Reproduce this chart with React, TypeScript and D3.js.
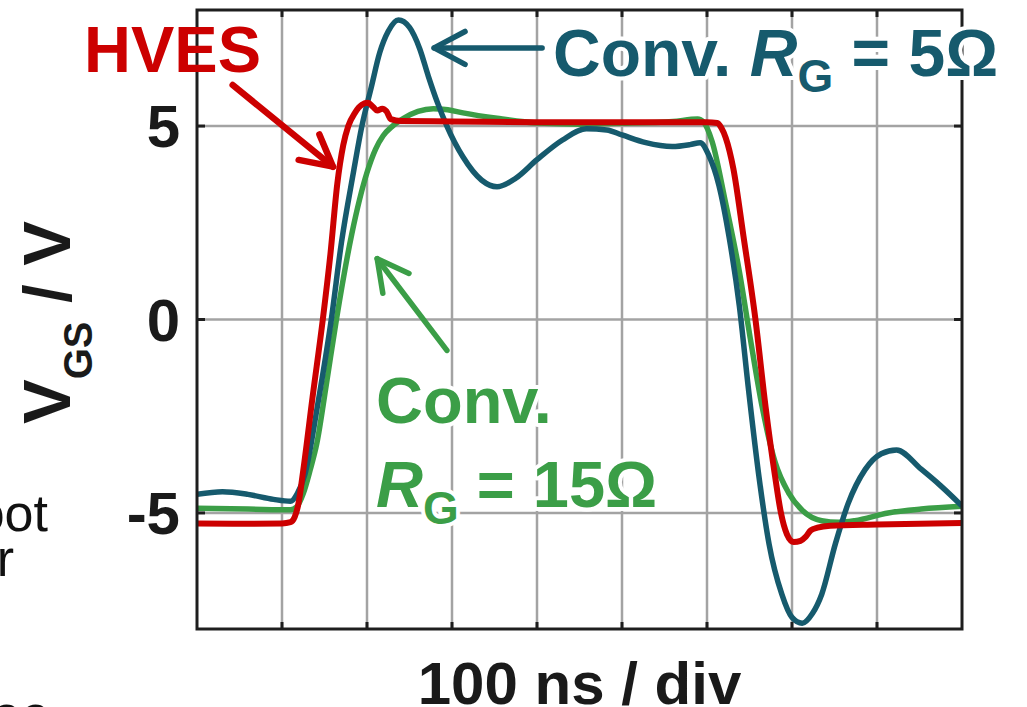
import React from "react";
import * as d3 from "d3";

// traces: [time ns, VGS volts]
const conv15Trace: [number, number][] = [
  [0, -4.88], [60, -4.9], [110, -4.92], [117, -4.85], [125, -4.5], [133, -3.9],
  [141, -3.2], [152, -1.7], [164, 0], [182, 2.2], [200, 3.8], [210, 4.4],
  [219, 4.75], [230, 5.0], [243, 5.2], [260, 5.38], [278, 5.45], [295, 5.42],
  [313, 5.34], [353, 5.2], [400, 5.08], [450, 5.05], [500, 5.07], [560, 5.12],
  [589, 5.18], [596, 5.1], [606, 4.6], [622, 3.0], [638, 1.25], [651, -0.5],
  [665, -2.27], [680, -3.68], [696, -4.48], [712, -4.93], [735, -5.2],
  [755, -5.24], [774, -5.2], [813, -5.0], [852, -4.9], [900, -4.83],
];

const conv5Trace: [number, number][] = [
  [0, -4.52], [30, -4.45], [60, -4.52], [90, -4.65], [110, -4.7], [118, -4.5],
  [127, -4.0], [142, -2.2], [158, 0], [170, 2.0], [184, 3.8], [194, 5.0],
  [205, 6.0], [215, 6.9], [225, 7.45], [237, 7.74], [250, 7.55], [262, 7.0],
  [272, 6.3], [283, 5.6], [294, 5.0], [313, 4.2], [335, 3.6], [353, 3.43],
  [375, 3.65], [400, 4.13], [430, 4.64], [458, 4.93], [482, 4.9], [500, 4.77],
  [528, 4.57], [559, 4.47], [580, 4.52], [592, 4.57], [602, 4.25], [614, 3.47],
  [626, 2.13], [638, 0.36], [649, -1.84], [661, -4.04], [673, -5.8], [688, -7.1],
  [700, -7.7], [712, -7.85], [724, -7.6], [735, -7.1], [751, -5.8], [766, -4.76],
  [786, -3.88], [805, -3.47], [823, -3.37], [852, -3.87], [875, -4.3], [900, -4.82],
];

const hvesTrace: [number, number][] = [
  [0, -5.27], [50, -5.28], [100, -5.27], [110, -5.24], [115, -5.1], [119, -4.8],
  [125, -3.9], [136, -2.0], [148, 0], [157, 1.7], [165, 3.5], [172, 4.5],
  [178, 5.0], [186, 5.35], [194, 5.55], [201, 5.6], [207, 5.5], [212, 5.4],
  [218, 5.45], [223, 5.38], [228, 5.18], [240, 5.13], [300, 5.12], [400, 5.1],
  [500, 5.1], [600, 5.1], [612, 5.08], [617, 4.95], [622, 4.7], [631, 3.9],
  [643, 2.14], [657, 0], [669, -2.27], [680, -4.04], [687, -5.0], [694, -5.55],
  [702, -5.75], [710, -5.72], [716, -5.62], [722, -5.45], [730, -5.38],
  [745, -5.33], [800, -5.3], [900, -5.26],
];

const xGrid = [100, 200, 300, 400, 500, 600, 700, 800];
const yTicks = [5, 0, -5];
const yTickLabels = ["5", "0", "-5"];

const TEAL = "#165a6d";
const RED = "#cc0000";
const GREEN = "#3b9e47";
const FONT = "'Liberation Sans', Arial, sans-serif";

const x = d3.scaleLinear().domain([0, 900]).range([197, 962]);
const y = d3.scaleLinear().domain([-8, 8]).range([629, 10]);

const line = d3
  .line<[number, number]>()
  .x((d) => x(d[0]))
  .y((d) => y(d[1]))
  .curve(d3.curveMonotoneX);

// arrow in data coords, head drawn at "to"
const Arrow = ({ from, to, color, width }) => {
  const x0 = x(from[0]), y0 = y(from[1]);
  const x1 = x(to[0]), y1 = y(to[1]);
  const a = Math.atan2(y0 - y1, x0 - x1);
  const len = 35, spread = (28 * Math.PI) / 180;
  const w1 = [x1 + len * Math.cos(a + spread), y1 + len * Math.sin(a + spread)];
  const w2 = [x1 + len * Math.cos(a - spread), y1 + len * Math.sin(a - spread)];
  return (
    <g stroke={color} strokeWidth={width} fill="none" strokeLinecap="round" strokeLinejoin="round">
      <line x1={x0} y1={y0} x2={x1} y2={y1} />
      <polyline points={`${w1[0]},${w1[1]} ${x1},${y1} ${w2[0]},${w2[1]}`} />
    </g>
  );
};

const halo = { paintOrder: "stroke", stroke: "white", strokeWidth: 8, strokeLinejoin: "round" } as any;

export default function App() {
  const [x0, x1] = x.range();
  const [yb, yt] = y.range();
  return (
    <svg
      width={1027}
      height={707}
      style={{ position: "absolute", left: 0, top: 0, background: "white" }}
      fontFamily={FONT}
    >
      <defs>
        <clipPath id="plot">
          <rect x={x0} y={yt} width={x1 - x0} height={yb - yt} />
        </clipPath>
      </defs>

      {/* bits of the neighbouring paper text */}
      <g fontSize={52} fill="#111">
        <text x={48} y={531} textAnchor="end">overshoot</text>
        <text x={14} y={576} textAnchor="end">over</text>
        <text x={-8} y={732}>ee</text>
      </g>

      {/* grid */}
      <g stroke="#a3a3a3" strokeWidth={2.5}>
        {xGrid.map((t) => (
          <line key={t} x1={x(t)} x2={x(t)} y1={yt} y2={yb} />
        ))}
        {yTicks.map((t) => (
          <line key={t} x1={x0} x2={x1} y1={y(t)} y2={y(t)} />
        ))}
      </g>

      {/* traces */}
      <g clipPath="url(#plot)" fill="none" strokeLinejoin="round">
        <path d={line(conv15Trace)} stroke={GREEN} strokeWidth={5.5} />
        <path d={line(conv5Trace)} stroke={TEAL} strokeWidth={5.5} />
        <path d={line(hvesTrace)} stroke={RED} strokeWidth={6} />
      </g>

      {/* axes box + inward ticks */}
      <g stroke="#1e1e1e" strokeWidth={3}>
        <rect x={x0} y={yt} width={x1 - x0} height={yb - yt} fill="none" />
        {xGrid.map((t) => (
          <g key={t}>
            <line x1={x(t)} x2={x(t)} y1={yt} y2={yt + 7} />
            <line x1={x(t)} x2={x(t)} y1={yb} y2={yb - 7} />
          </g>
        ))}
        {yTicks.map((t) => (
          <g key={t}>
            <line x1={x0} x2={x0 + 8} y1={y(t)} y2={y(t)} />
            <line x1={x1} x2={x1 - 8} y1={y(t)} y2={y(t)} />
          </g>
        ))}
      </g>

      {/* tick labels */}
      <g fontSize={60} fontWeight="bold" fill="#1a1a1a" textAnchor="end">
        {yTicks.map((t, i) => (
          <text key={t} x={180} y={y(t) + 21}>{yTickLabels[i]}</text>
        ))}
      </g>

      <text x={(x0 + x1) / 2} y={704} textAnchor="middle" fontSize={60} fontWeight="bold" fill="#1a1a1a">
        100 ns / div
      </text>

      <text transform="translate(70,424) rotate(-90)" fontSize={67} fontWeight="bold" fill="#1a1a1a">
        V<tspan fontSize={40} dy={22}>GS</tspan>
        <tspan dy={-22}> / V</tspan>
      </text>

      {/* annotations */}
      <Arrow from={[42, 6.06]} to={[160, 3.95]} color={RED} width={6.5} />
      <Arrow from={[406, 7.02]} to={[279, 7.02]} color={TEAL} width={5.5} />
      <Arrow from={[294, -0.8]} to={[212, 1.57]} color={GREEN} width={5.5} />

      <text x={84} y={72} fontSize={65} fontWeight="bold" fill={RED}>HVES</text>

      <text x={553} y={76} fontSize={66} fontWeight="bold" fill={TEAL} {...halo}>
        Conv. <tspan fontStyle="italic">R</tspan>
        <tspan fontSize={46} dy={16}>G</tspan>
        <tspan dy={-16}> = 5Ω</tspan>
      </text>

      <g fontSize={65} fontWeight="bold" fill={GREEN} {...halo}>
        <text x={376} y={423}>Conv.</text>
        <text x={376} y={507}>
          <tspan fontStyle="italic">R</tspan>
          <tspan fontSize={46} dy={17}>G</tspan>
          <tspan dy={-17}> = 15Ω</tspan>
        </text>
      </g>
    </svg>
  );
}
